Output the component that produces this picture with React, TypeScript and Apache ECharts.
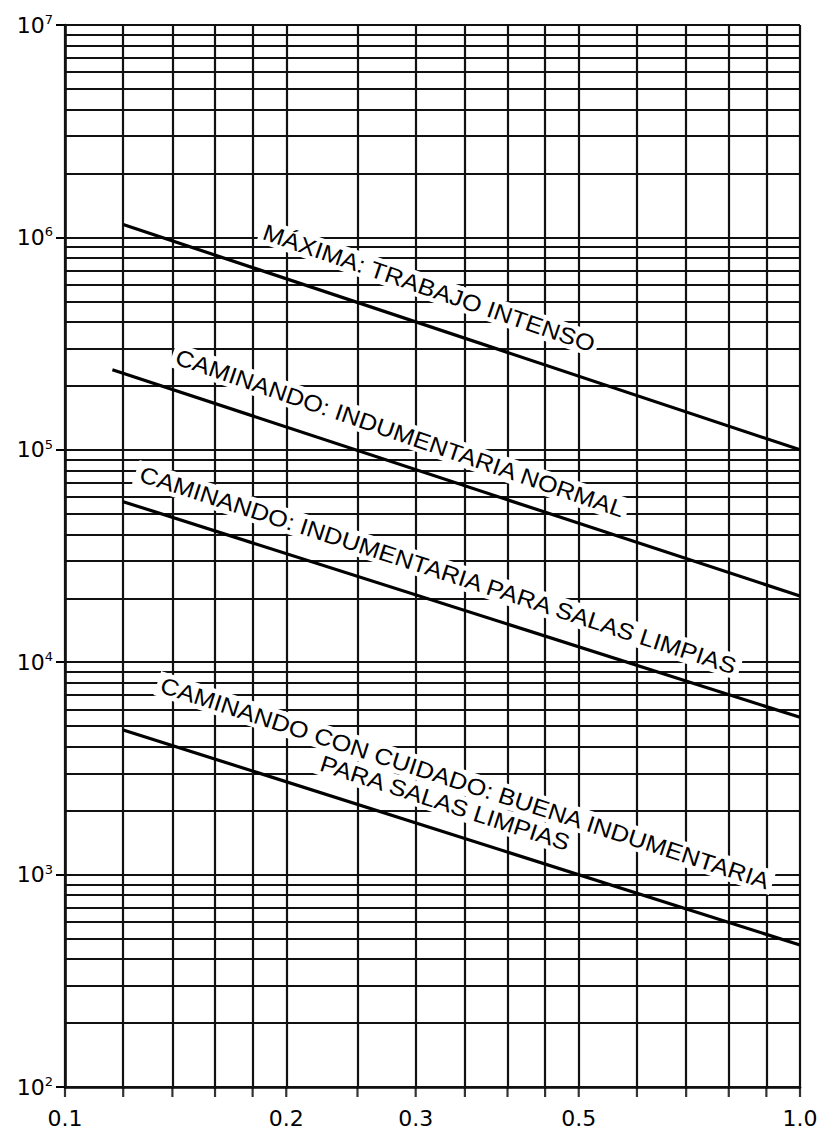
import React, { useEffect, useRef } from "react";
import * as echarts from "echarts";

// ---- data ----
const xTickValues = [0.1, 0.2, 0.3, 0.5, 1.0];
const xTickLabels = ["0.1", "0.2", "0.3", "0.5", "1.0"];
const xGridValues = [0.1, 0.12, 0.14, 0.16, 0.18, 0.2, 0.25, 0.3, 0.35, 0.4, 0.45, 0.5, 0.6, 0.7, 0.8, 0.9, 1.0];
const yDecades = [100, 1000, 10000, 100000, 1000000];
const yMantissas = [1, 2, 3, 4, 5, 6, 7, 8, 9];
const yTop = 10000000;

const seriesNames = [
  "MÁXIMA: TRABAJO INTENSO",
  "CAMINANDO: INDUMENTARIA NORMAL",
  "CAMINANDO: INDUMENTARIA PARA SALAS LIMPIAS",
  "CAMINANDO CON CUIDADO: BUENA INDUMENTARIA PARA SALAS LIMPIAS",
];
const maximaX = [0.12, 1.0];
const maximaY = [1150000, 100000];
const normalX = [0.116, 1.0];
const normalY = [238000, 20500];
const salasX = [0.12, 1.0];
const salasY = [57000, 5500];
const cuidadoX = [0.12, 1.0];
const cuidadoY = [4800, 466];

const FONT = "Liberation Sans";
const AXFONT = "DejaVu Sans";

export default function App() {
  const ref = useRef<HTMLDivElement>(null);

  useEffect(() => {
    if (!ref.current) return;
    const chart = echarts.init(ref.current, null, { renderer: "svg" });

    const yGridValues: number[] = [];
    yDecades.forEach((d) => yMantissas.forEach((m) => yGridValues.push(m * d)));
    yGridValues.push(yTop);

    const gridStyle = { color: "#111", width: 2.2, type: "solid" as const };

    const hLines = yGridValues.map((v) => ({ yAxis: v, name: "" }));
    const vLines = xGridValues.map((v) => {
      const idx = xTickValues.indexOf(v);
      return { xAxis: v, name: idx >= 0 ? xTickLabels[idx] : "" };
    });

    const mkLine = (name: string, xs: number[], ys: number[]) => ({
      name,
      type: "line",
      data: xs.map((x, i) => [x, ys[i]]),
      showSymbol: false,
      symbol: "none",
      lineStyle: { color: "#000", width: 3.2 },
      z: 10,
    });

    const textStyle = (text: string) => ({
      text,
      fill: "#000",
      fontSize: 23,
      fontFamily: FONT,
      align: "center",
      verticalAlign: "middle",
      backgroundColor: "#fff",
      padding: [1, 3],
    });

    const deg = Math.PI / 180;
    const labels = [
      { t: seriesNames[0], x: 429, y: 288, a: 19 },
      { t: seriesNames[1], x: 400, y: 433, a: 19 },
      { t: seriesNames[2], x: 438, y: 570, a: 18 },
      { t: "CAMINANDO CON CUIDADO: BUENA INDUMENTARIA", x: 465, y: 783, a: 18 },
      { t: "PARA SALAS LIMPIAS", x: 445, y: 803, a: 18 },
    ];

    chart.setOption({
      animation: false,
      backgroundColor: "#fff",
      textStyle: { fontFamily: FONT },
      grid: { left: 65, right: 24, top: 25, bottom: 44, containLabel: false },
      xAxis: {
        type: "log",
        logBase: 10,
        min: 0.1,
        max: 1,
        axisLine: { show: true, lineStyle: { color: "#000", width: 2.5 } },
        axisTick: { show: false },
        axisLabel: { show: false },
        splitLine: { show: false },
        minorSplitLine: { show: false },
      },
      yAxis: {
        type: "log",
        logBase: 10,
        min: 100,
        max: 10000000,
        axisLine: { show: true, onZero: false, lineStyle: { color: "#000", width: 2.5 } },
        axisTick: { show: true, inside: false, length: 9, lineStyle: { color: "#000", width: 2 } },
        axisLabel: {
          show: true,
          margin: 12,
          fontSize: 22,
          fontFamily: AXFONT,
          color: "#000",
          lineHeight: 24,
          formatter: (v: number) => `10{s|${Math.round(Math.log10(v))}}`,
          rich: {
            s: { fontSize: 13, fontFamily: AXFONT, color: "#000", lineHeight: 24, verticalAlign: "top" },
          },
        },
        splitLine: { show: false },
      },
      series: [
        {
          name: "grid",
          type: "line",
          data: [[0.5, 1000]],
          showSymbol: false,
          symbol: "none",
          lineStyle: { opacity: 0 },
          silent: true,
          markLine: {
            silent: true,
            symbol: "none",
            animation: false,
            label: {
              show: true,
              position: "start",
              distance: 20,
              color: "#000",
              fontSize: 22,
              fontFamily: AXFONT,
              formatter: (p: any) => (p.name ? p.name : ""),
            },
            lineStyle: gridStyle,
            data: [...hLines, ...vLines],
          },
        },
        {
          name: "ticks",
          type: "scatter",
          clip: false,
          silent: true,
          data: xGridValues.map((x) => [x, 100]),
          symbol: "rect",
          symbolSize: [2.2, 10],
          symbolOffset: [0, 5],
          itemStyle: { color: "#000" },
        },
        mkLine(seriesNames[0], maximaX, maximaY),
        mkLine(seriesNames[1], normalX, normalY),
        mkLine(seriesNames[2], salasX, salasY),
        mkLine(seriesNames[3], cuidadoX, cuidadoY),
      ],
      graphic: labels.map((l) => ({
        type: "text",
        x: l.x,
        y: l.y,
        rotation: -l.a * deg,
        scaleX: 1.1,
        z: 100,
        style: textStyle(l.t),
      })),
    });

    return () => chart.dispose();
  }, []);

  return (
    <div
      ref={ref}
      style={{ position: "absolute", left: 0, top: 0, width: 824, height: 1131, background: "#fff" }}
    />
  );
}
